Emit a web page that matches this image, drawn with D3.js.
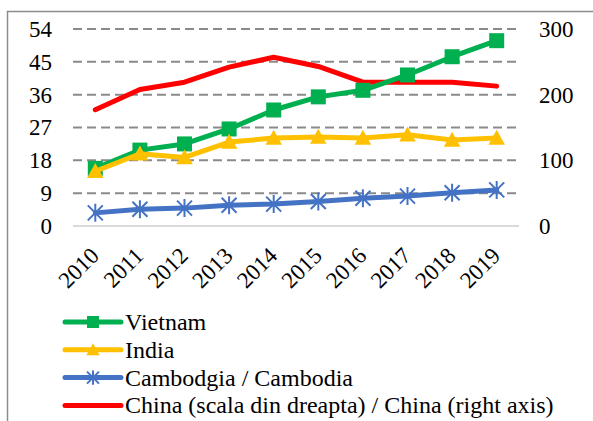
<!DOCTYPE html>
<html>
<head>
  <meta charset="utf-8">
  <title>Chart</title>
  <script src="https://cdn.jsdelivr.net/npm/d3@7/dist/d3.min.js"></script>
  <style>
    body { margin: 0; background: #fff; }
  </style>
</head>
<body>
<div id="chart"></div>
<script>
  // data
  const years = ['2010', '2011', '2012', '2013', '2014', '2015', '2016', '2017', '2018', '2019'];
  const vietnam = [15.8, 20.8, 22.5, 26.6, 31.8, 35.4, 37.2, 41.4, 46.4, 50.8];
  const india = [15.0, 19.8, 18.8, 23.0, 24.1, 24.4, 24.1, 25.0, 23.6, 24.1];
  const cambodia = [3.6, 4.6, 4.9, 5.7, 6.0, 6.7, 7.6, 8.2, 9.1, 9.9];
  const china = [177, 208, 219, 242, 257, 243, 219, 219, 219, 213];
  const leftTicks = [0, 9, 18, 27, 36, 45, 54];
  const rightTicks = [0, 100, 200, 300];

  const W = 593, H = 421;
  const plot = { left: 73, right: 519, top: 29, bottom: 226 };
  const serif = '"Liberation Serif", "Times New Roman", Times, "Nimbus Roman", "Noto Serif", FreeSerif, "DejaVu Serif", serif';

  const svg = d3.select('#chart').append('svg')
    .attr('width', W)
    .attr('height', H)
    .attr('font-family', serif);

  // outer frame (only left and top visible)
  svg.append('rect')
    .attr('x', 7.5).attr('y', 11.5)
    .attr('width', W + 10).attr('height', H + 10)
    .attr('fill', 'none')
    .attr('stroke', '#8c8c8c')
    .attr('stroke-width', 1.5);

  const x = d3.scaleBand().domain(years).range([plot.left, plot.right]);
  const yL = d3.scaleLinear().domain([0, 54]).range([plot.bottom, plot.top]);
  const yR = d3.scaleLinear().domain([0, 300]).range([plot.bottom, plot.top]);
  const cx = d => x(d) + x.bandwidth() / 2;

  // gridlines
  svg.append('g').selectAll('line')
    .data(leftTicks.filter(t => t > 0))
    .enter().append('line')
    .attr('x1', plot.left).attr('x2', plot.right)
    .attr('y1', d => yL(d)).attr('y2', d => yL(d))
    .attr('stroke', '#8a8a8a')
    .attr('stroke-width', 2)
    .attr('stroke-dasharray', '9,5');

  svg.append('line')
    .attr('x1', plot.left).attr('x2', plot.right)
    .attr('y1', yL(0)).attr('y2', yL(0))
    .attr('stroke', '#d9d9d9')
    .attr('stroke-width', 2);

  function styleTicks(g) {
    g.attr('font-family', serif).attr('font-size', 23);
    g.select('.domain').remove();
    g.selectAll('text')
      .style('font-family', serif)
      .style('font-size', '23px')
      .attr('fill', '#000');
  }

  // left axis
  svg.append('g')
    .attr('transform', `translate(${plot.left - 21},0)`)
    .call(d3.axisLeft(yL).tickValues(leftTicks).tickSize(0).tickPadding(0))
    .call(styleTicks);

  // right axis
  svg.append('g')
    .attr('transform', `translate(${plot.right + 20},0)`)
    .call(d3.axisRight(yR).tickValues(rightTicks).tickSize(0).tickPadding(0))
    .call(styleTicks);

  // x axis labels, rotated
  svg.append('g')
    .attr('transform', `translate(0,${plot.bottom})`)
    .call(d3.axisBottom(x).tickSize(0).tickPadding(0))
    .call(styleTicks)
    .selectAll('text')
    .attr('text-anchor', 'end')
    .attr('dy', 0)
    .attr('transform', 'translate(5,31) rotate(-45)');

  // series
  const series = [
    { name: 'China (scala din dreapta) / China (right axis)', values: china, scale: yR, color: '#ff0000', marker: 'none' },
    { name: 'Vietnam', values: vietnam, scale: yL, color: '#00b050', marker: 'square' },
    { name: 'India', values: india, scale: yL, color: '#ffc000', marker: 'triangle' },
    { name: 'Cambodgia / Cambodia', values: cambodia, scale: yL, color: '#4472c4', marker: 'star' }
  ];

  function drawMarker(g, type, color, size) {
    if (type === 'square') {
      g.append('rect')
        .attr('x', -size / 2).attr('y', -size / 2)
        .attr('width', size).attr('height', size)
        .attr('fill', color);
    } else if (type === 'triangle') {
      g.append('path')
        .attr('d', `M0,${-size * 0.55}L${size * 0.55},${size * 0.45}L${-size * 0.55},${size * 0.45}Z`)
        .attr('fill', color);
    } else if (type === 'star') {
      const r = size / 2;
      g.append('path')
        .attr('d', `M${-r},${-r}L${r},${r}M${-r},${r}L${r},${-r}M0,${-r * 1.2}L0,${r * 1.2}`)
        .attr('stroke', color)
        .attr('stroke-width', 2)
        .attr('fill', 'none');
    }
  }

  const line = d3.line().x(d => cx(d.year)).y(d => d.y);

  series.forEach(s => {
    const pts = years.map((yr, i) => ({ year: yr, y: s.scale(s.values[i]) }));
    svg.append('path')
      .datum(pts)
      .attr('d', line)
      .attr('fill', 'none')
      .attr('stroke', s.color)
      .attr('stroke-width', 5)
      .attr('stroke-linejoin', 'round')
      .attr('stroke-linecap', 'round');
    if (s.marker !== 'none') {
      pts.forEach(p => {
        const g = svg.append('g').attr('transform', `translate(${cx(p.year)},${p.y})`);
        drawMarker(g, s.marker, s.color, 15);
      });
    }
  });

  // legend
  const legendOrder = [series[1], series[2], series[3], series[0]];
  const legend = svg.append('g').attr('transform', 'translate(65,322)');
  legendOrder.forEach((s, i) => {
    const g = legend.append('g').attr('transform', `translate(0,${i * 27.8})`);
    g.append('line')
      .attr('x1', 0).attr('x2', 56)
      .attr('y1', 0).attr('y2', 0)
      .attr('stroke', s.color)
      .attr('stroke-width', 5)
      .attr('stroke-linecap', 'round');
    const m = g.append('g').attr('transform', 'translate(28,0)');
    drawMarker(m, s.marker, s.color, 12);
    g.append('text')
      .attr('x', 60)
      .attr('y', 8)
      .style('font-family', serif)
      .style('font-size', '24px')
      .text(s.name);
  });
</script>
</body>
</html>
